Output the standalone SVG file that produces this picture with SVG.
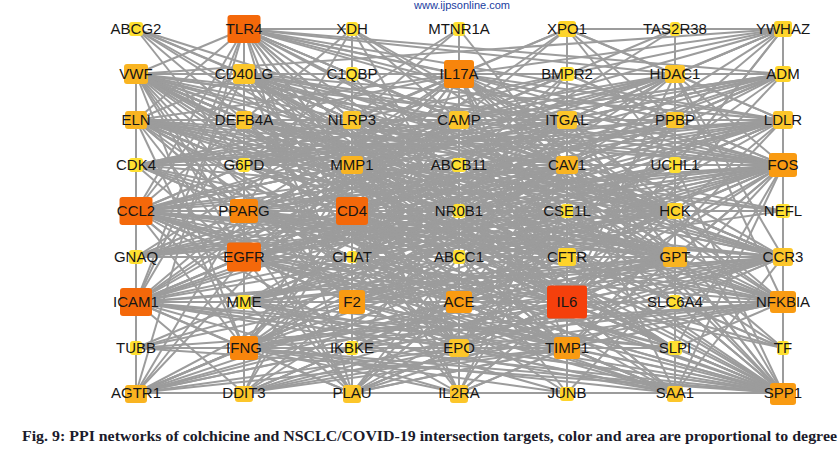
<svg xmlns="http://www.w3.org/2000/svg" width="840" height="450" viewBox="0 0 840 450">
<style>
.e path{stroke:#9c9c9c;stroke-width:2;fill:none}
.n rect{rx:3;ry:3}
.n text{font-family:"Liberation Sans",Arial,sans-serif;font-size:15px;fill:#161616;text-anchor:middle}
.d1{fill:#ffe031}.d2{fill:#fed42a}.d3{fill:#fcc62a}.d4{fill:#f9b421}.d5{fill:#f99b12}.d6{fill:#f7850c}.d7{fill:#f4680a}.d8{fill:#f5400c}
.cap{font-family:"Liberation Serif","Times New Roman",serif;font-size:15px;font-weight:bold;fill:#1b1b2b}
.wm{font-family:"Liberation Sans",Arial,sans-serif;font-size:11px;fill:#2040a0;text-anchor:middle}
</style>
<rect width="840" height="450" fill="#ffffff"/>
<text class="wm" x="462" y="9">www.ijpsonline.com</text>
<g id="connectors" class="e">
<path d="M567 302L244 29"/><path d="M567 302L136 211"/><path d="M567 302L352 211"/><path d="M567 302L244 257"/><path d="M567 302L136 302"/><path d="M567 302L459 74"/><path d="M567 302L244 211"/><path d="M567 302L244 348"/><path d="M567 302L783 165"/><path d="M567 302L352 302"/><path d="M567 302L459 302"/><path d="M567 302L783 302"/><path d="M567 302L567 348"/><path d="M567 302L783 393"/>
<path d="M244 29L136 211"/><path d="M244 29L352 211"/><path d="M244 29L244 257"/><path d="M244 29L136 302"/><path d="M244 29L459 74"/><path d="M244 29L244 211"/><path d="M244 29L244 348"/><path d="M244 29L783 165"/><path d="M244 29L352 302"/><path d="M244 29L459 302"/><path d="M244 29L783 302"/><path d="M244 29L567 348"/><path d="M244 29L783 393"/>
<path d="M136 211L352 211"/><path d="M136 211L244 257"/><path d="M136 211L136 302"/><path d="M136 211L459 74"/><path d="M136 211L244 211"/><path d="M136 211L244 348"/><path d="M136 211L783 165"/><path d="M136 211L352 302"/><path d="M136 211L459 302"/><path d="M136 211L783 302"/><path d="M136 211L567 348"/><path d="M136 211L783 393"/>
<path d="M352 211L244 257"/><path d="M352 211L136 302"/><path d="M352 211L459 74"/><path d="M352 211L244 211"/><path d="M352 211L244 348"/><path d="M352 211L783 165"/><path d="M352 211L352 302"/><path d="M352 211L459 302"/><path d="M352 211L783 302"/><path d="M352 211L567 348"/><path d="M352 211L783 393"/>
<path d="M244 257L136 302"/><path d="M244 257L459 74"/><path d="M244 257L244 211"/><path d="M244 257L244 348"/><path d="M244 257L783 165"/><path d="M244 257L352 302"/><path d="M244 257L459 302"/><path d="M244 257L783 302"/><path d="M244 257L567 348"/><path d="M244 257L783 393"/>
<path d="M136 302L459 74"/><path d="M136 302L244 211"/><path d="M136 302L244 348"/><path d="M136 302L783 165"/><path d="M136 302L352 302"/><path d="M136 302L783 302"/><path d="M136 302L567 348"/><path d="M136 302L783 393"/>
<path d="M459 74L244 211"/><path d="M459 74L244 348"/><path d="M459 74L783 165"/><path d="M459 74L352 302"/><path d="M459 74L459 302"/><path d="M459 74L783 302"/><path d="M459 74L567 348"/><path d="M459 74L783 393"/>
<path d="M244 211L244 348"/><path d="M244 211L783 165"/><path d="M244 211L352 302"/><path d="M244 211L459 302"/><path d="M244 211L783 302"/><path d="M244 211L567 348"/><path d="M244 211L783 393"/>
<path d="M244 348L783 165"/><path d="M244 348L352 302"/><path d="M244 348L459 302"/><path d="M244 348L783 302"/><path d="M244 348L567 348"/><path d="M244 348L783 393"/>
<path d="M783 165L352 302"/><path d="M783 165L459 302"/><path d="M783 165L783 302"/><path d="M783 165L567 348"/><path d="M783 165L783 393"/>
<path d="M352 302L459 302"/><path d="M352 302L567 348"/><path d="M352 302L783 393"/><path d="M459 302L567 348"/><path d="M459 302L783 393"/><path d="M783 302L567 348"/><path d="M783 302L783 393"/><path d="M567 348L783 393"/>
<path d="M567 302L136 74"/><path d="M567 302L244 74"/><path d="M567 302L136 120"/><path d="M567 302L352 165"/><path d="M567 302L567 165"/><path d="M567 302L675 257"/><path d="M567 302L783 257"/><path d="M567 302L675 74"/><path d="M567 302L783 29"/><path d="M567 302L783 120"/><path d="M567 302L567 257"/><path d="M567 302L459 348"/><path d="M567 302L459 393"/><path d="M567 302L567 393"/><path d="M567 302L675 393"/><path d="M567 302L675 348"/><path d="M567 302L136 393"/><path d="M567 302L352 393"/><path d="M567 302L244 302"/><path d="M567 302L352 120"/><path d="M567 302L459 120"/><path d="M567 302L567 120"/><path d="M567 302L675 120"/><path d="M567 302L675 211"/><path d="M567 302L244 120"/><path d="M567 302L567 29"/><path d="M567 302L783 74"/>
<path d="M244 29L352 29"/><path d="M244 29L136 74"/><path d="M244 29L244 74"/><path d="M244 29L136 120"/><path d="M244 29L244 120"/><path d="M244 29L352 120"/><path d="M244 29L352 165"/><path d="M244 29L567 165"/><path d="M244 29L675 74"/><path d="M244 29L783 120"/><path d="M244 29L675 257"/><path d="M244 29L783 257"/><path d="M244 29L567 120"/><path d="M244 29L675 120"/><path d="M244 29L459 120"/><path d="M244 29L136 393"/><path d="M244 29L352 393"/><path d="M244 29L783 74"/>
<path d="M136 211L244 74"/><path d="M136 211L352 165"/><path d="M136 211L567 165"/><path d="M136 211L675 257"/><path d="M136 211L783 257"/><path d="M136 211L675 74"/><path d="M136 211L783 120"/><path d="M136 211L567 257"/><path d="M136 211L459 348"/><path d="M136 211L459 393"/><path d="M136 211L352 393"/><path d="M136 211L675 393"/><path d="M136 211L675 348"/><path d="M136 211L783 74"/><path d="M136 211L459 120"/><path d="M136 211L675 211"/><path d="M136 211L244 302"/><path d="M136 211L244 120"/><path d="M136 211L567 120"/><path d="M136 211L352 120"/>
<path d="M352 211L136 74"/><path d="M352 211L244 74"/><path d="M352 211L244 120"/><path d="M352 211L352 120"/><path d="M352 211L459 120"/><path d="M352 211L567 120"/><path d="M352 211L352 165"/><path d="M352 211L567 165"/><path d="M352 211L675 211"/><path d="M352 211L675 257"/><path d="M352 211L783 257"/><path d="M352 211L459 348"/><path d="M352 211L459 393"/><path d="M352 211L352 393"/><path d="M352 211L675 393"/><path d="M352 211L244 393"/><path d="M352 211L783 120"/><path d="M352 211L783 29"/><path d="M352 211L783 74"/><path d="M352 211L567 257"/><path d="M352 211L136 120"/><path d="M352 211L675 120"/>
<path d="M244 257L244 74"/><path d="M244 257L136 74"/><path d="M244 257L136 120"/><path d="M244 257L352 165"/><path d="M244 257L567 165"/><path d="M244 257L675 74"/><path d="M244 257L567 29"/><path d="M244 257L675 257"/><path d="M244 257L567 257"/><path d="M244 257L783 257"/><path d="M244 257L459 348"/><path d="M244 257L352 393"/><path d="M244 257L136 393"/><path d="M244 257L244 393"/><path d="M244 257L783 120"/><path d="M244 257L675 393"/><path d="M244 257L675 165"/><path d="M244 257L567 211"/><path d="M244 257L136 257"/><path d="M244 257L244 302"/><path d="M244 257L136 165"/>
<path d="M136 302L244 74"/><path d="M136 302L244 120"/><path d="M136 302L352 165"/><path d="M136 302L567 165"/><path d="M136 302L567 120"/><path d="M136 302L675 257"/><path d="M136 302L783 257"/><path d="M136 302L459 348"/><path d="M136 302L352 393"/><path d="M136 302L244 393"/><path d="M136 302L459 393"/><path d="M136 302L675 393"/><path d="M136 302L459 120"/><path d="M136 302L783 120"/><path d="M136 302L675 348"/><path d="M136 302L244 302"/><path d="M136 302L675 211"/><path d="M136 302L783 74"/>
<path d="M459 74L352 74"/><path d="M459 74L459 29"/><path d="M459 74L567 29"/><path d="M459 74L567 74"/><path d="M459 74L675 74"/><path d="M459 74L783 29"/><path d="M459 74L783 74"/><path d="M459 74L459 120"/><path d="M459 74L352 120"/><path d="M459 74L567 120"/><path d="M459 74L244 120"/><path d="M459 74L244 74"/><path d="M459 74L136 74"/><path d="M459 74L352 165"/><path d="M459 74L567 165"/><path d="M459 74L675 257"/><path d="M459 74L675 120"/><path d="M459 74L783 120"/><path d="M459 74L783 257"/><path d="M459 74L136 120"/><path d="M459 74L675 211"/><path d="M459 74L567 257"/><path d="M459 74L459 348"/>
<path d="M244 211L136 74"/><path d="M244 211L136 120"/><path d="M244 211L244 74"/><path d="M244 211L352 165"/><path d="M244 211L567 165"/><path d="M244 211L675 74"/><path d="M244 211L783 120"/><path d="M244 211L675 257"/><path d="M244 211L783 257"/><path d="M244 211L567 257"/><path d="M244 211L783 74"/><path d="M244 211L244 393"/><path d="M244 211L352 393"/><path d="M244 211L675 393"/><path d="M244 211L136 393"/><path d="M244 211L136 165"/><path d="M244 211L244 165"/><path d="M244 211L459 257"/><path d="M244 211L459 211"/>
<path d="M244 348L136 348"/><path d="M244 348L244 393"/><path d="M244 348L136 74"/><path d="M244 348L244 74"/><path d="M244 348L244 120"/><path d="M244 348L352 165"/><path d="M244 348L567 165"/><path d="M244 348L675 257"/><path d="M244 348L783 257"/><path d="M244 348L459 393"/><path d="M244 348L352 393"/><path d="M244 348L675 393"/><path d="M244 348L675 348"/><path d="M244 348L136 393"/><path d="M244 348L567 120"/><path d="M244 348L459 120"/><path d="M244 348L783 120"/><path d="M244 348L136 120"/><path d="M244 348L567 393"/><path d="M244 348L783 74"/>
<path d="M783 165L675 74"/><path d="M783 165L675 120"/><path d="M783 165L675 165"/><path d="M783 165L567 165"/><path d="M783 165L567 120"/><path d="M783 165L352 165"/><path d="M783 165L675 211"/><path d="M783 165L675 257"/><path d="M783 165L136 120"/><path d="M783 165L136 165"/><path d="M783 165L136 74"/><path d="M783 165L244 74"/><path d="M783 165L459 211"/><path d="M783 165L567 211"/><path d="M783 165L136 257"/><path d="M783 165L459 120"/><path d="M783 165L352 120"/><path d="M783 165L567 74"/><path d="M783 165L244 120"/><path d="M783 165L244 165"/><path d="M783 165L567 257"/><path d="M783 165L675 348"/><path d="M783 165L675 393"/><path d="M783 165L567 393"/><path d="M783 165L459 348"/><path d="M783 165L244 302"/><path d="M783 165L459 257"/>
<path d="M352 302L352 393"/><path d="M352 302L136 74"/><path d="M352 302L352 165"/><path d="M352 302L567 165"/><path d="M352 302L675 257"/><path d="M352 302L675 393"/><path d="M352 302L459 348"/><path d="M352 302L136 393"/><path d="M352 302L244 393"/><path d="M352 302L783 257"/><path d="M352 302L244 74"/><path d="M352 302L136 120"/><path d="M352 302L352 348"/><path d="M352 302L783 120"/>
<path d="M459 302L136 393"/><path d="M459 302L459 348"/><path d="M459 302L459 393"/><path d="M459 302L567 165"/><path d="M459 302L352 165"/><path d="M459 302L675 257"/><path d="M459 302L675 393"/><path d="M459 302L352 393"/><path d="M459 302L783 120"/><path d="M459 302L783 74"/><path d="M459 302L136 74"/><path d="M459 302L783 257"/><path d="M459 302L244 393"/><path d="M459 302L136 120"/>
<path d="M783 302L352 348"/><path d="M783 302L675 74"/><path d="M783 302L675 302"/><path d="M783 302L675 348"/><path d="M783 302L675 257"/><path d="M783 302L567 165"/><path d="M783 302L352 165"/><path d="M783 302L136 74"/><path d="M783 302L136 120"/><path d="M783 302L244 74"/><path d="M783 302L567 120"/><path d="M783 302L136 348"/><path d="M783 302L244 393"/><path d="M783 302L352 393"/><path d="M783 302L459 348"/>
<path d="M567 348L567 393"/><path d="M567 348L352 165"/><path d="M567 348L567 165"/><path d="M567 348L352 393"/><path d="M567 348L675 393"/><path d="M567 348L459 393"/><path d="M567 348L675 257"/><path d="M567 348L783 257"/><path d="M567 348L136 74"/><path d="M567 348L136 120"/><path d="M567 348L136 393"/><path d="M567 348L675 348"/><path d="M567 348L244 74"/><path d="M567 348L244 393"/><path d="M567 348L783 120"/>
<path d="M783 393L675 257"/><path d="M783 393L675 348"/><path d="M783 393L352 165"/><path d="M783 393L567 165"/><path d="M783 393L459 348"/><path d="M783 393L244 74"/><path d="M783 393L136 74"/><path d="M783 393L136 120"/><path d="M783 393L244 302"/><path d="M783 393L675 302"/><path d="M783 393L136 165"/><path d="M783 393L567 120"/><path d="M783 393L459 120"/><path d="M783 393L352 348"/><path d="M783 393L136 348"/><path d="M783 393L675 211"/><path d="M783 393L675 165"/><path d="M783 393L567 257"/><path d="M783 393L459 257"/><path d="M783 393L567 211"/>
<path d="M136 29L244 74"/><path d="M136 29L244 165"/><path d="M136 29L352 165"/><path d="M136 29L244 120"/><path d="M136 29L352 120"/>
<path d="M352 29L244 120"/><path d="M352 29L459 120"/><path d="M352 29L244 211"/><path d="M352 29L352 74"/><path d="M459 29L352 120"/>
<path d="M567 29L675 29"/><path d="M567 29L567 74"/><path d="M567 29L675 74"/><path d="M567 29L675 120"/><path d="M567 29L459 120"/><path d="M567 29L352 120"/><path d="M567 29L675 165"/><path d="M567 29L783 120"/>
<path d="M675 29L783 29"/><path d="M675 29L675 74"/>
<path d="M783 29L783 74"/><path d="M783 29L675 74"/><path d="M783 29L567 74"/><path d="M783 29L136 74"/><path d="M783 29L567 120"/><path d="M783 29L675 120"/><path d="M783 29L459 120"/><path d="M783 29L567 165"/><path d="M783 29L675 165"/>
<path d="M675 74L675 120"/><path d="M675 74L567 74"/><path d="M675 74L567 165"/><path d="M675 74L567 120"/><path d="M675 74L783 120"/><path d="M675 74L783 74"/><path d="M675 74L352 165"/><path d="M675 74L459 120"/><path d="M675 74L459 211"/><path d="M675 74L783 257"/>
<path d="M783 74L783 120"/><path d="M783 74L567 165"/><path d="M783 74L567 120"/><path d="M783 74L675 120"/><path d="M783 74L352 165"/><path d="M783 74L459 120"/>
<path d="M567 74L567 120"/><path d="M567 74L459 120"/><path d="M567 74L675 120"/><path d="M567 74L352 165"/><path d="M352 74L352 120"/><path d="M352 74L459 120"/>
<path d="M136 74L244 74"/><path d="M136 74L136 120"/><path d="M136 74L352 165"/><path d="M136 74L567 165"/><path d="M136 74L352 393"/><path d="M136 74L244 120"/><path d="M136 74L244 165"/><path d="M136 74L675 257"/><path d="M136 74L783 257"/><path d="M136 74L459 120"/><path d="M136 74L567 120"/>
<path d="M244 74L244 120"/><path d="M244 74L352 165"/><path d="M244 74L567 165"/><path d="M244 74L136 120"/><path d="M244 74L352 120"/><path d="M244 74L459 120"/><path d="M244 74L567 120"/><path d="M244 74L675 257"/><path d="M244 74L783 257"/><path d="M244 74L783 120"/>
<path d="M136 120L136 165"/><path d="M136 120L352 165"/><path d="M136 120L567 165"/><path d="M136 120L244 120"/><path d="M136 120L675 257"/><path d="M136 120L783 257"/>
<path d="M244 120L352 120"/><path d="M244 120L459 120"/><path d="M244 120L352 165"/><path d="M244 120L244 165"/><path d="M244 120L567 165"/>
<path d="M352 120L459 120"/><path d="M352 120L352 165"/><path d="M352 120L567 165"/><path d="M352 120L567 120"/>
<path d="M459 120L567 120"/><path d="M459 120L567 165"/><path d="M459 120L459 165"/><path d="M459 120L352 165"/>
<path d="M567 120L675 120"/><path d="M567 120L567 165"/><path d="M567 120L352 165"/>
<path d="M675 120L783 120"/><path d="M675 120L675 165"/><path d="M675 120L567 165"/>
<path d="M783 120L783 165"/><path d="M783 120L567 165"/><path d="M783 120L352 165"/><path d="M783 120L675 165"/>
<path d="M136 165L136 211"/><path d="M136 165L244 165"/><path d="M136 165L352 165"/><path d="M244 165L244 211"/><path d="M244 165L352 165"/>
<path d="M352 165L567 165"/><path d="M352 165L352 393"/><path d="M352 165L675 257"/><path d="M352 165L783 257"/><path d="M352 165L567 257"/><path d="M352 165L675 393"/><path d="M352 165L459 348"/><path d="M352 165L136 393"/><path d="M352 165L244 393"/><path d="M352 165L459 393"/>
<path d="M567 165L675 165"/><path d="M567 165L675 257"/><path d="M567 165L567 257"/><path d="M567 165L783 257"/><path d="M567 165L459 348"/><path d="M567 165L352 393"/><path d="M567 165L675 393"/><path d="M567 165L136 393"/><path d="M567 165L459 393"/><path d="M567 165L675 211"/><path d="M567 165L459 211"/>
<path d="M675 165L675 211"/><path d="M136 211L136 257"/><path d="M459 211L459 165"/><path d="M459 211L459 257"/><path d="M567 211L567 257"/>
<path d="M675 211L675 257"/><path d="M675 211L783 211"/><path d="M675 211L783 257"/><path d="M783 211L783 257"/><path d="M783 165L783 211"/>
<path d="M136 257L136 302"/><path d="M136 257L244 257"/><path d="M352 257L352 302"/><path d="M459 257L567 257"/><path d="M567 257L675 257"/>
<path d="M675 257L783 257"/><path d="M675 257L675 302"/><path d="M675 257L675 393"/><path d="M675 257L459 348"/><path d="M675 257L352 393"/><path d="M675 257L136 393"/><path d="M675 257L244 393"/><path d="M675 257L244 302"/>
<path d="M783 257L783 302"/><path d="M783 257L459 348"/><path d="M783 257L675 393"/><path d="M783 257L352 393"/><path d="M783 257L459 393"/><path d="M783 257L244 393"/><path d="M783 257L136 393"/><path d="M783 257L244 302"/>
<path d="M136 302L136 348"/><path d="M244 302L244 348"/><path d="M136 348L136 393"/><path d="M352 348L352 393"/>
<path d="M459 348L459 393"/><path d="M459 348L675 348"/><path d="M459 348L675 393"/><path d="M459 348L352 393"/><path d="M459 348L136 393"/><path d="M459 348L244 393"/>
<path d="M675 348L675 393"/><path d="M783 302L783 348"/><path d="M783 348L783 393"/>
<path d="M136 393L244 393"/><path d="M244 393L352 393"/><path d="M352 393L459 393"/><path d="M459 393L567 393"/><path d="M567 393L675 393"/><path d="M675 393L783 393"/>
<path d="M136 74L675 211"/><path d="M136 74L783 348"/><path d="M136 74L675 348"/><path d="M136 74L567 257"/><path d="M136 74L459 211"/><path d="M136 74L459 257"/>
<path d="M244 74L675 211"/><path d="M244 74L567 257"/><path d="M244 74L459 257"/><path d="M244 74L675 348"/><path d="M244 74L459 348"/><path d="M244 74L567 211"/><path d="M244 74L675 302"/>
<path d="M136 120L675 211"/><path d="M136 120L567 257"/><path d="M136 120L459 257"/><path d="M136 120L675 348"/><path d="M136 120L459 348"/><path d="M136 120L567 211"/><path d="M136 120L783 211"/>
<path d="M244 120L675 211"/><path d="M244 120L567 257"/><path d="M244 120L459 348"/><path d="M244 120L675 257"/><path d="M244 120L783 257"/><path d="M244 120L567 211"/><path d="M244 120L675 348"/>
<path d="M352 120L675 257"/><path d="M352 120L783 257"/><path d="M352 120L459 348"/><path d="M352 120L567 257"/><path d="M352 120L675 211"/><path d="M352 120L136 257"/><path d="M352 120L136 165"/>
<path d="M459 120L675 257"/><path d="M459 120L136 257"/><path d="M459 120L244 257"/><path d="M459 120L783 257"/><path d="M459 120L675 211"/><path d="M459 120L136 165"/><path d="M459 120L352 257"/>
<path d="M567 120L136 257"/><path d="M567 120L244 165"/><path d="M567 120L136 165"/><path d="M567 120L352 257"/><path d="M567 120L675 257"/><path d="M567 120L459 257"/><path d="M567 120L244 302"/>
<path d="M675 120L136 257"/><path d="M675 120L244 165"/><path d="M675 120L352 257"/><path d="M675 120L459 211"/><path d="M675 120L244 302"/><path d="M675 120L136 165"/><path d="M675 120L459 348"/>
<path d="M783 120L136 257"/><path d="M783 120L244 165"/><path d="M783 120L352 257"/><path d="M783 120L459 211"/><path d="M783 120L136 165"/><path d="M783 120L459 257"/>
<path d="M352 165L675 211"/><path d="M352 165L783 211"/><path d="M352 165L136 257"/><path d="M352 165L459 257"/><path d="M352 165L675 348"/><path d="M352 165L783 348"/>
<path d="M567 165L136 257"/><path d="M567 165L244 165"/><path d="M567 165L352 257"/><path d="M567 165L244 302"/><path d="M567 165L783 211"/><path d="M567 165L783 348"/>
<path d="M459 165L675 257"/><path d="M459 165L244 257"/><path d="M459 165L567 257"/><path d="M244 165L567 257"/><path d="M244 165L675 257"/><path d="M244 165L459 257"/>
<path d="M136 165L567 257"/><path d="M136 165L675 211"/><path d="M136 165L459 257"/><path d="M675 165L352 257"/><path d="M675 165L244 302"/><path d="M675 165L136 257"/><path d="M675 165L459 257"/>
<path d="M459 211L675 257"/><path d="M459 211L244 302"/><path d="M459 211L567 257"/><path d="M459 211L352 257"/><path d="M567 211L352 257"/><path d="M567 211L244 302"/><path d="M567 211L136 257"/><path d="M567 211L675 257"/>
<path d="M675 211L352 257"/><path d="M675 211L244 302"/><path d="M675 211L459 257"/><path d="M675 211L136 257"/><path d="M136 257L459 211"/><path d="M352 257L675 211"/><path d="M352 257L783 257"/><path d="M352 257L136 165"/><path d="M459 257L783 211"/>
<path d="M352 29L567 165"/><path d="M352 29L459 211"/><path d="M352 29L675 211"/><path d="M459 29L567 165"/><path d="M459 29L244 165"/><path d="M675 29L459 165"/><path d="M675 29L352 165"/><path d="M136 29L459 211"/><path d="M136 29L567 165"/>
<path d="M352 74L567 165"/><path d="M352 74L244 165"/><path d="M352 74L459 211"/><path d="M567 74L244 165"/><path d="M567 74L136 165"/><path d="M567 74L459 211"/><path d="M567 74L352 257"/>
<path d="M675 74L244 165"/><path d="M675 74L136 165"/><path d="M675 74L352 257"/><path d="M783 74L244 165"/><path d="M783 74L459 211"/><path d="M783 74L136 165"/>
<path d="M136 348L459 257"/><path d="M136 348L567 257"/><path d="M136 348L352 257"/><path d="M352 348L567 257"/><path d="M352 348L459 211"/><path d="M352 348L675 211"/>
<path d="M459 348L352 257"/><path d="M459 348L567 211"/><path d="M675 348L352 257"/><path d="M675 348L459 211"/><path d="M675 348L244 302"/>
<path d="M783 348L459 257"/><path d="M783 348L352 257"/><path d="M783 348L567 211"/><path d="M136 393L459 257"/><path d="M136 393L567 211"/><path d="M136 393L675 211"/>
<path d="M244 393L459 257"/><path d="M244 393L567 257"/><path d="M244 393L675 211"/><path d="M352 393L567 211"/><path d="M352 393L675 211"/><path d="M352 393L459 257"/>
<path d="M459 393L352 257"/><path d="M459 393L675 211"/><path d="M459 393L567 211"/><path d="M567 393L352 257"/><path d="M567 393L244 302"/><path d="M567 393L459 257"/>
<path d="M675 393L352 257"/><path d="M675 393L459 211"/><path d="M675 393L244 302"/>
</g>
<g id="n-ABCG2" class="n"><rect class="d1" x="129" y="22" width="14" height="14"/><text x="136" y="34">ABCG2</text></g>
<g id="n-TLR4" class="n"><rect class="d7" x="227.5" y="15" width="33" height="28"/><text x="244" y="34">TLR4</text></g>
<g id="n-XDH" class="n"><rect class="d1" x="346" y="22" width="12" height="14"/><text x="352" y="34">XDH</text></g>
<g id="n-MTNR1A" class="n"><rect class="d1" x="453" y="22" width="12" height="14"/><text x="459" y="34">MTNR1A</text></g>
<g id="n-XPO1" class="n"><rect class="d2" x="558" y="21" width="18" height="16"/><text x="567" y="34">XPO1</text></g>
<g id="n-TAS2R38" class="n"><rect class="d1" x="670" y="22" width="10" height="14"/><text x="675" y="34">TAS2R38</text></g>
<g id="n-YWHAZ" class="n"><rect class="d2" x="774" y="21" width="18" height="16"/><text x="783" y="34">YWHAZ</text></g>
<g id="n-VWF" class="n"><rect class="d4" x="124" y="64" width="24" height="20"/><text x="136" y="79">VWF</text></g>
<g id="n-CD40LG" class="n"><rect class="d3" x="233" y="64" width="22" height="20"/><text x="244" y="79">CD40LG</text></g>
<g id="n-C1QBP" class="n"><rect class="d1" x="346" y="67" width="12" height="14"/><text x="352" y="79">C1QBP</text></g>
<g id="n-IL17A" class="n"><rect class="d6" x="444" y="60" width="30" height="28"/><text x="459" y="79">IL17A</text></g>
<g id="n-BMPR2" class="n"><rect class="d1" x="560" y="67" width="14" height="14"/><text x="567" y="79">BMPR2</text></g>
<g id="n-HDAC1" class="n"><rect class="d3" x="665" y="65" width="20" height="18"/><text x="675" y="79">HDAC1</text></g>
<g id="n-ADM" class="n"><rect class="d2" x="775" y="66" width="16" height="16"/><text x="783" y="79">ADM</text></g>
<g id="n-ELN" class="n"><rect class="d4" x="125" y="111" width="22" height="18"/><text x="136" y="125">ELN</text></g>
<g id="n-DEFB4A" class="n"><rect class="d3" x="236" y="111" width="16" height="18"/><text x="244" y="125">DEFB4A</text></g>
<g id="n-NLRP3" class="n"><rect class="d3" x="343" y="111" width="18" height="18"/><text x="352" y="125">NLRP3</text></g>
<g id="n-CAMP" class="n"><rect class="d3" x="449" y="111" width="20" height="18"/><text x="459" y="125">CAMP</text></g>
<g id="n-ITGAL" class="n"><rect class="d3" x="557" y="111" width="20" height="18"/><text x="567" y="125">ITGAL</text></g>
<g id="n-PPBP" class="n"><rect class="d3" x="666" y="112" width="18" height="16"/><text x="675" y="125">PPBP</text></g>
<g id="n-LDLR" class="n"><rect class="d3" x="773" y="111" width="20" height="18"/><text x="783" y="125">LDLR</text></g>
<g id="n-CDK4" class="n"><rect class="d1" x="129" y="158" width="14" height="14"/><text x="136" y="170">CDK4</text></g>
<g id="n-G6PD" class="n"><rect class="d1" x="238" y="158" width="12" height="14"/><text x="244" y="170">G6PD</text></g>
<g id="n-MMP1" class="n"><rect class="d4" x="341" y="156" width="22" height="18"/><text x="352" y="170">MMP1</text></g>
<g id="n-ABCB11" class="n"><rect class="d1" x="452" y="158" width="14" height="14"/><text x="459" y="170">ABCB11</text></g>
<g id="n-CAV1" class="n"><rect class="d4" x="556" y="156" width="22" height="18"/><text x="567" y="170">CAV1</text></g>
<g id="n-UCHL1" class="n"><rect class="d1" x="669" y="157" width="12" height="16"/><text x="675" y="170">UCHL1</text></g>
<g id="n-FOS" class="n"><rect class="d5" x="769" y="153" width="28" height="24"/><text x="783" y="170">FOS</text></g>
<g id="n-CCL2" class="n"><rect class="d7" x="119.5" y="197" width="33" height="28"/><text x="136" y="216">CCL2</text></g>
<g id="n-PPARG" class="n"><rect class="d6" x="230" y="199" width="28" height="24"/><text x="244" y="216">PPARG</text></g>
<g id="n-CD4" class="n"><rect class="d7" x="336" y="197" width="32" height="28"/><text x="352" y="216">CD4</text></g>
<g id="n-NR0B1" class="n"><rect class="d1" x="453" y="204" width="12" height="14"/><text x="459" y="216">NR0B1</text></g>
<g id="n-CSE1L" class="n"><rect class="d1" x="561" y="204" width="12" height="14"/><text x="567" y="216">CSE1L</text></g>
<g id="n-HCK" class="n"><rect class="d2" x="667" y="203" width="16" height="16"/><text x="675" y="216">HCK</text></g>
<g id="n-NEFL" class="n"><rect class="d1" x="776" y="204" width="14" height="14"/><text x="783" y="216">NEFL</text></g>
<g id="n-GNAQ" class="n"><rect class="d1" x="129" y="250" width="14" height="14"/><text x="136" y="262">GNAQ</text></g>
<g id="n-EGFR" class="n"><rect class="d7" x="227" y="242.5" width="34" height="29"/><text x="244" y="262">EGFR</text></g>
<g id="n-CHAT" class="n"><rect class="d1" x="347" y="251" width="10" height="12"/><text x="352" y="262">CHAT</text></g>
<g id="n-ABCC1" class="n"><rect class="d1" x="453" y="250" width="12" height="14"/><text x="459" y="262">ABCC1</text></g>
<g id="n-CFTR" class="n"><rect class="d2" x="558" y="248" width="18" height="18"/><text x="567" y="262">CFTR</text></g>
<g id="n-GPT" class="n"><rect class="d4" x="663" y="247" width="24" height="20"/><text x="675" y="262">GPT</text></g>
<g id="n-CCR3" class="n"><rect class="d3" x="773" y="248" width="20" height="18"/><text x="783" y="262">CCR3</text></g>
<g id="n-ICAM1" class="n"><rect class="d7" x="120" y="288" width="32" height="28"/><text x="136" y="307">ICAM1</text></g>
<g id="n-MME" class="n"><rect class="d1" x="237" y="295" width="14" height="14"/><text x="244" y="307">MME</text></g>
<g id="n-F2" class="n"><rect class="d5" x="339" y="290" width="26" height="24"/><text x="352" y="307">F2</text></g>
<g id="n-ACE" class="n"><rect class="d5" x="446" y="291" width="26" height="22"/><text x="459" y="307">ACE</text></g>
<g id="n-IL6" class="n"><rect class="d8" x="547" y="285.5" width="40" height="33" rx="4" ry="4"/><text x="567" y="307">IL6</text></g>
<g id="n-SLC6A4" class="n"><rect class="d1" x="669" y="295" width="12" height="14"/><text x="675" y="307">SLC6A4</text></g>
<g id="n-NFKBIA" class="n"><rect class="d5" x="770" y="291" width="26" height="22"/><text x="783" y="307">NFKBIA</text></g>
<g id="n-TUBB" class="n"><rect class="d1" x="130" y="341" width="12" height="14"/><text x="136" y="353">TUBB</text></g>
<g id="n-IFNG" class="n"><rect class="d6" x="230" y="336" width="28" height="24"/><text x="244" y="353">IFNG</text></g>
<g id="n-IKBKE" class="n"><rect class="d1" x="346" y="341" width="12" height="14"/><text x="352" y="353">IKBKE</text></g>
<g id="n-EPO" class="n"><rect class="d3" x="449" y="339" width="20" height="18"/><text x="459" y="353">EPO</text></g>
<g id="n-TIMP1" class="n"><rect class="d5" x="554" y="337" width="26" height="22"/><text x="567" y="353">TIMP1</text></g>
<g id="n-SLPI" class="n"><rect class="d1" x="668" y="341" width="14" height="14"/><text x="675" y="353">SLPI</text></g>
<g id="n-TF" class="n"><rect class="d1" x="777" y="341" width="12" height="14"/><text x="783" y="353">TF</text></g>
<g id="n-AGTR1" class="n"><rect class="d4" x="125" y="385" width="22" height="18"/><text x="136" y="398">AGTR1</text></g>
<g id="n-DDIT3" class="n"><rect class="d3" x="235" y="386" width="18" height="16"/><text x="244" y="398">DDIT3</text></g>
<g id="n-PLAU" class="n"><rect class="d3" x="343" y="385" width="18" height="18"/><text x="352" y="398">PLAU</text></g>
<g id="n-IL2RA" class="n"><rect class="d3" x="450" y="385" width="18" height="18"/><text x="459" y="398">IL2RA</text></g>
<g id="n-JUNB" class="n"><rect class="d2" x="560" y="387" width="14" height="14"/><text x="567" y="398">JUNB</text></g>
<g id="n-SAA1" class="n"><rect class="d3" x="667" y="386" width="16" height="16"/><text x="675" y="398">SAA1</text></g>
<g id="n-SPP1" class="n"><rect class="d5" x="770" y="383" width="26" height="22"/><text x="783" y="398">SPP1</text></g>
<text class="cap" x="22" y="441" textLength="815" lengthAdjust="spacingAndGlyphs">Fig. 9: PPI networks of colchicine and NSCLC/COVID-19 intersection targets, color and area are proportional to degree</text>
</svg>
